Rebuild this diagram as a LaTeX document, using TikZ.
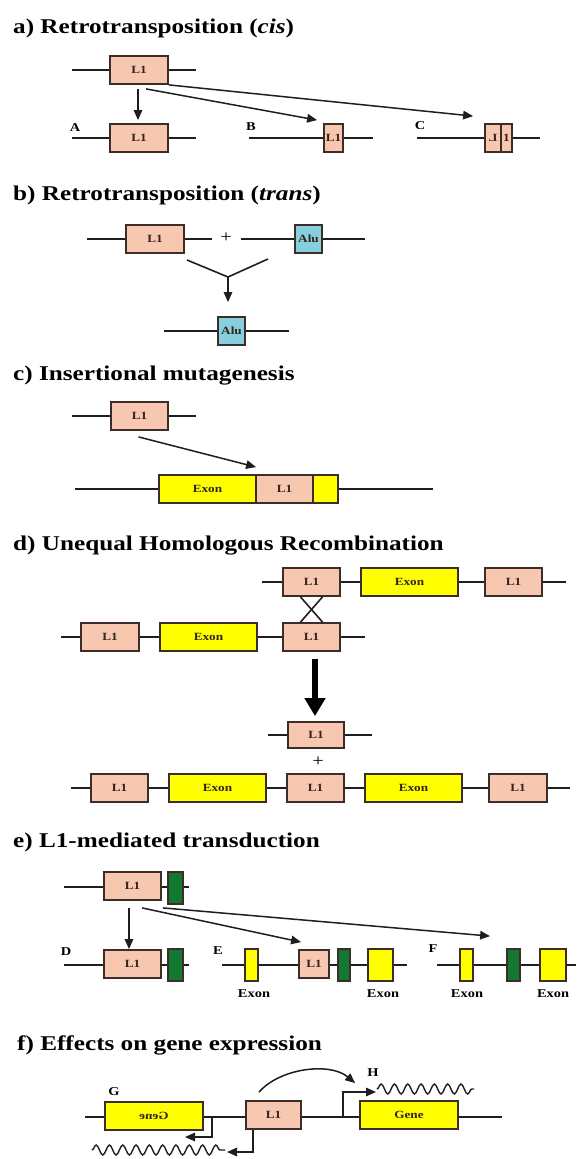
\documentclass[tikz,border=0pt]{standalone}
\usepackage{fontspec}
\setmainfont{Liberation Serif}[FakeStretch=1.2]
\usetikzlibrary{arrows.meta,calc,decorations.pathmorphing}
\definecolor{lonec}{RGB}{247,199,176}
\definecolor{yelc}{RGB}{255,255,0}
\definecolor{aluc}{RGB}{135,206,222}
\definecolor{grnc}{RGB}{20,120,50}
\definecolor{bordc}{RGB}{60,45,40}
\definecolor{linec}{RGB}{30,30,30}
\definecolor{txtc}{RGB}{50,35,30}
\begin{document}
\begin{tikzpicture}[x=1pt,y=-1pt,
  dna/.style={line width=1.6pt, draw=linec},
  arr/.style={line width=1.5pt, draw=linec, -{Triangle[length=10pt,width=8.5pt]}},
  bigarr/.style={line width=5.5pt, draw=black, -{Triangle[length=18pt,width=20pt]}},
  wave/.style={line width=1.4pt, draw=linec, decorate, decoration={snake, segment length=13.3pt, amplitude=5pt}},
  bx/.style={draw=bordc, line width=1.8pt, inner sep=0pt, font=\fontsize{11}{11}\selectfont\bfseries, text=txtc},
  sz/.style 2 args={minimum width=#1pt, minimum height=#2pt},
  lone/.style={bx, fill=lonec},
  yel/.style={bx, fill=yelc},
  alu/.style={bx, fill=aluc},
  grn/.style={bx, fill=grnc},
  ttl/.style={anchor=base west, inner sep=0pt, font=\fontsize{21}{24}\selectfont\bfseries},
  lbl/.style={inner sep=0pt, font=\fontsize{12}{12}\selectfont\bfseries},
  pls/.style={inner sep=0pt, font=\fontsize{17}{17}\selectfont},
]
\useasboundingbox (0,0) rectangle (576,1159);

% ---------------- a
\node[ttl] (ta) at (13,33) {a) Retrotransposition (\textit{cis})};
\coordinate (aTl) at (72,70); \coordinate (aTr) at (196,70);
\draw[dna] (aTl) -- (aTr);
\node[lone,sz={58}{28}] (aT) at (139,70) {L1};
\coordinate (aAl) at (72,138); \coordinate (aAr) at (196,138);
\draw[dna] (aAl) -- (aAr);
\node[lone,sz={58}{28}] (aA) at (139,138) {L1};
\node[lbl] (labA) at (75,128) {A};
\coordinate (aBl) at (249,138); \coordinate (aBr) at (373,138);
\draw[dna] (aBl) -- (aBr);
\node[lone,sz={19}{28}] (aB) at (333.5,138) {L1};
\node[lbl] (labB) at (251,127) {B};
\coordinate (aCl) at (417,138); \coordinate (aCr) at (540,138);
\draw[dna] (aCl) -- (aCr);
\node[lone,sz={16}{28}] (aC1) at (493,138) {\reflectbox{L}};
\node[lone,sz={11}{28}] (aC2) at (506.5,138) {1};
\node[lbl] (labC) at (420,126) {C};
\draw[arr] ($(aT.south)+(-1,4)$) -- ($(aA.north)+(-1,-3)$);
\draw[arr] ($(aT.south)+(7,4)$) -- ($(aB.north west)+(-6,-3)$);
\draw[arr] ($(aT.south east)+(0,0)$) -- ($(aC1.north west)+(-11,-7)$);

% ---------------- b
\node[ttl] (tb) at (13,200) {b) Retrotransposition (\textit{trans})};
\coordinate (bLl) at (87,239); \coordinate (bLr) at (212,239);
\draw[dna] (bLl) -- (bLr);
\node[lone,sz={58}{28}] (bL) at (155,239) {L1};
\node[pls] (bplus) at (226,238) {+};
\coordinate (bRl) at (241,239); \coordinate (bRr) at (365,239);
\draw[dna] (bRl) -- (bRr);
\node[alu,sz={27}{28}] (bAlu) at (308.5,239) {Alu};
\coordinate (yl) at (187,260); \coordinate (yc) at (228,277); \coordinate (yr) at (268,259);
\draw[dna] (yl) -- (yc) -- (yr);
\coordinate (bAl) at (164,331); \coordinate (bAr) at (289,331);
\draw[dna] (bAl) -- (bAr);
\node[alu,sz={27}{28}] (bAlu2) at (231.5,331) {Alu};
\draw[arr] (yc) -- ($(bAlu2.north)+(-3.5,-14)$);

% ---------------- c
\node[ttl] (tc) at (13,380) {c) Insertional mutagenesis};
\coordinate (cTl) at (72,416); \coordinate (cTr) at (196,416);
\draw[dna] (cTl) -- (cTr);
\node[lone,sz={57}{28}] (cT) at (139.5,416) {L1};
\coordinate (cBl) at (75,489); \coordinate (cBr) at (433,489);
\draw[dna] (cBl) -- (cBr);
\node[yel,sz={97}{28}] (cEx) at (207.5,489) {Exon};
\node[lone,sz={57}{28}] (cIns) at (284.5,489) {L1};
\node[yel,sz={25}{28}] (cEx2) at (325.5,489) {};
\draw[arr] ($(cT.south)+(-1,6)$) -- ($(cIns.north west)+(1,-7)$);

% ---------------- d
\node[ttl] (td) at (13,550) {d) Unequal Homologous Recombination};
\coordinate (dTl) at (262,582); \coordinate (dTr) at (566,582);
\draw[dna] (dTl) -- (dTr);
\node[lone,sz={57}{28}] (dT1) at (311.5,582) {L1};
\node[yel,sz={97}{28}] (dTE) at (409.5,582) {Exon};
\node[lone,sz={57}{28}] (dT2) at (513.5,582) {L1};
\coordinate (dLl) at (61,637); \coordinate (dLr) at (365,637);
\draw[dna] (dLl) -- (dLr);
\node[lone,sz={58}{28}] (dL1) at (110,637) {L1};
\node[yel,sz={97}{28}] (dLE) at (208.5,637) {Exon};
\node[lone,sz={57}{28}] (dL2) at (311.5,637) {L1};
\draw[dna] ($(dT1.south)+(-11,0)$) -- ($(dL2.north)+(11,0)$);
\draw[dna] ($(dT1.south)+(11,0)$) -- ($(dL2.north)+(-11,0)$);
\coordinate (dMl) at (268,735); \coordinate (dMr) at (372,735);
\draw[dna] (dMl) -- (dMr);
\node[lone,sz={56}{26}] (dM) at (316,735) {L1};
\draw[bigarr] ($(dL2.south)+(3.5,7)$) -- ($(dM.north)+(-1,-5)$);
\node[pls] (dplus) at (318,762) {+};
\coordinate (dBl) at (71,788); \coordinate (dBr) at (570,788);
\draw[dna] (dBl) -- (dBr);
\node[lone,sz={57}{28}] (dB1) at (119.5,788) {L1};
\node[yel,sz={97}{28}] (dB2) at (217.5,788) {Exon};
\node[lone,sz={57}{28}] (dB3) at (315.5,788) {L1};
\node[yel,sz={97}{28}] (dB4) at (413.5,788) {Exon};
\node[lone,sz={58}{28}] (dB5) at (518,788) {L1};

% ---------------- e
\node[ttl] (te) at (13,847) {e) L1-mediated transduction};
\coordinate (eTl) at (64,887); \coordinate (eTr) at (189,887);
\draw[dna] (eTl) -- (eTr);
\node[lone,sz={57}{28}] (eT) at (132.5,886) {L1};
\node[grn,sz={15}{32}] (eG) at (175.5,888) {};
\coordinate (eDl) at (64,965); \coordinate (eDr) at (189,965);
\draw[dna] (eDl) -- (eDr);
\node[lone,sz={57}{28}] (eD) at (132.5,964) {L1};
\node[grn,sz={15}{32}] (eDg) at (175.5,965) {};
\node[lbl] (labD) at (66,952) {D};
\coordinate (eEl) at (222,965); \coordinate (eEr) at (407,965);
\draw[dna] (eEl) -- (eEr);
\node[yel,sz={13}{32}] (eE1) at (251.5,965) {};
\node[lone,sz={30}{28}] (eE2) at (314,964) {L1};
\node[grn,sz={12}{32}] (eE3) at (344,965) {};
\node[yel,sz={25}{32}] (eE4) at (380.5,965) {};
\node[lbl] (labE) at (218,951) {E};
\coordinate (eFl) at (437,965); \coordinate (eFr) at (576,965);
\draw[dna] (eFl) -- (eFr);
\node[yel,sz={13}{32}] (eF1) at (466.5,965) {};
\node[grn,sz={13}{32}] (eF2) at (513.5,965) {};
\node[yel,sz={26}{32}] (eF3) at (553,965) {};
\node[lbl] (labF) at (433,949) {F};
\node[lbl] (x1) at (254,994) {Exon};
\node[lbl] (x2) at (383,994) {Exon};
\node[lbl] (x3) at (467,994) {Exon};
\node[lbl] (x4) at (553,994) {Exon};
\draw[arr] ($(eT.south)+(-3.5,7)$) -- ($(eD.north)+(-3.5,0)$);
\draw[arr] ($(eT.south)+(9.5,7)$) -- ($(eE2.north west)+(3,-7)$);
\draw[arr] ($(eT.south east)+(1,7)$) -- ($(eF2.north west)+(-16,-12)$);

% ---------------- f
\node[ttl] (tf) at (17,1050) {f) Effects on gene expression};
\coordinate (fl) at (85,1117); \coordinate (fr) at (502,1117);
\draw[dna] (fl) -- (fr);
\coordinate (pG) at (212,1117); \coordinate (pGe) at (185,1137);
\draw[arr] (pG) |- (pGe);
\coordinate (pH) at (343,1117); \coordinate (pHe) at (376,1092);
\draw[arr] (pH) |- (pHe);
\node[yel,sz={98}{28}] (fG) at (154,1116) {\reflectbox{Gene}};
\node[lone,sz={55}{28}] (fL) at (273.5,1115) {L1};
\node[yel,sz={98}{28}] (fGene) at (409,1115) {Gene};
\node[lbl] (labG) at (114,1092) {G};
\node[lbl] (labH) at (373,1073) {H};
\coordinate (cs) at ($(fL.north)+(-14.5,-8)$);
\coordinate (ce) at ($(fGene.north west)+(-4,-17)$);
\draw[arr] (cs) .. controls (280,1068) and (330,1062) .. (ce);
\coordinate (aLe) at (227,1152);
\draw[arr] ($(fL.south)+(-20.5,0)$) |- (aLe);
\coordinate (wH1) at (377,1089); \coordinate (wH2) at (474,1089);
\draw[wave] (wH1) -- (wH2);
\coordinate (wG1) at (92,1150); \coordinate (wG2) at (225,1150);
\draw[wave] (wG1) -- (wG2);
\end{tikzpicture}
\end{document}
